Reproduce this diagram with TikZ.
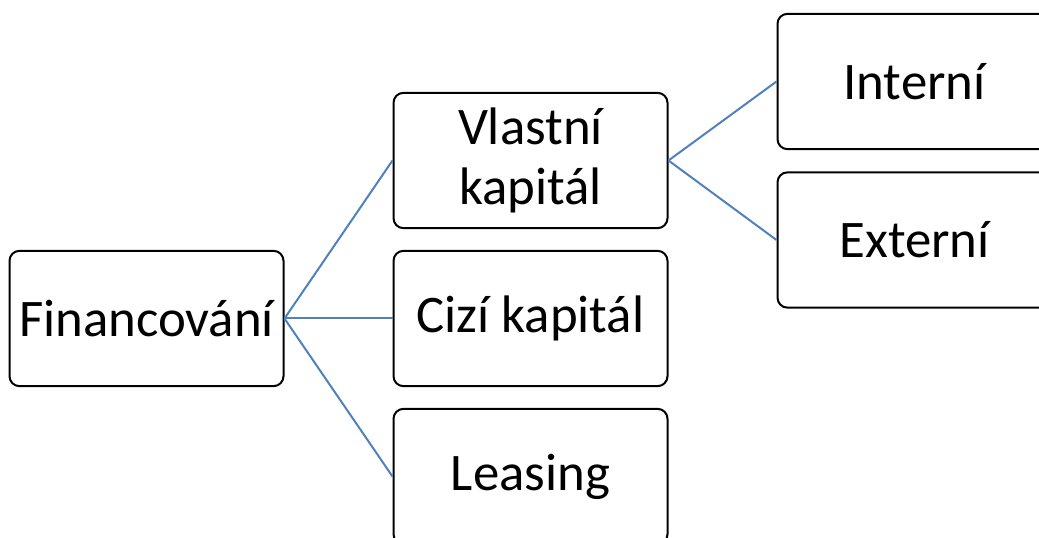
\documentclass[tikz,border=0pt]{standalone}
\usepackage{fontspec}
\setmainfont{Carlito}
\definecolor{linkblue}{RGB}{79,129,189}
\tikzset{
  box/.style={draw=black, line width=1.5pt, rounded corners=7.5pt, fill=white,
    minimum width=205.5pt, minimum height=101.5pt, align=center, inner sep=0pt,
    font=\fontsize{39.6}{45}\selectfont},
  link/.style={draw=linkblue, line width=1.5pt}
}
\begin{document}
\begin{tikzpicture}[x=0.75pt, y=-0.75pt]
        \useasboundingbox (0,0) rectangle (1039,538);
        \clip (0,0) rectangle (1039,538);

        \node[box] (fin) at (146.5, 318.5) {Financování};

        \node[box] (vlastni) at (530.5, 160.5) {Vlastní\\kapitál};
        \node[box] (cizi)    at (530.5, 318.5) {Cizí kapitál};
        \node[box] (leasing) at (530.5, 476.5) {Leasing};

        \node[box] (interni) at (914.5, 81.5)  {Interní};
        \node[box] (externi) at (914.5, 240)   {Externí};

        \draw[link] (fin.east) -- (vlastni.west);
        \draw[link] (fin.east) -- (cizi.west);
        \draw[link] (fin.east) -- (leasing.west);
        \draw[link] (vlastni.east) -- (interni.west);
        \draw[link] (vlastni.east) -- (externi.west);
    \end{tikzpicture}
\end{document}
